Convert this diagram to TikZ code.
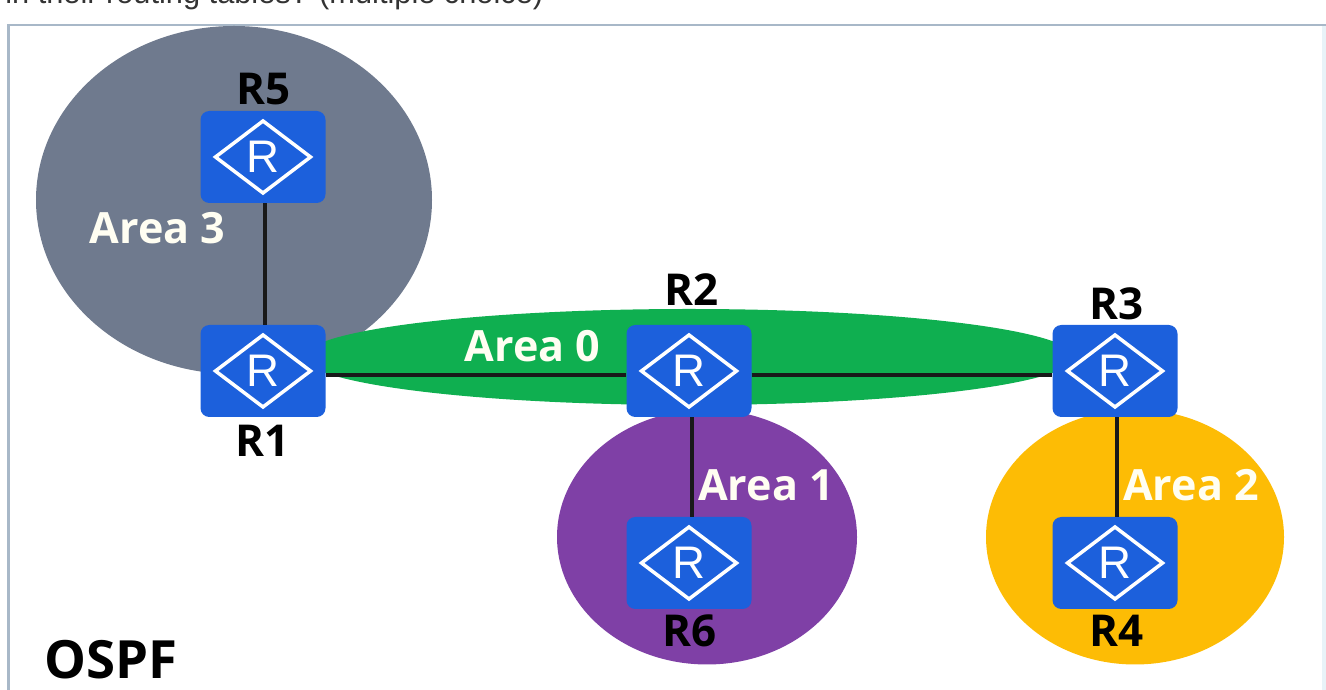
\documentclass[tikz,border=0pt]{standalone}
\usepackage{fontspec}
\setmainfont{Open Sans}
\newfontfamily\headfont{Liberation Sans}
\usepackage{xcolor}
\usetikzlibrary{shapes.geometric}

\definecolor{areagray}{HTML}{6F7A8E}
\definecolor{areagreen}{HTML}{0FAF50}
\definecolor{areapurple}{HTML}{7F40A6}
\definecolor{areayellow}{HTML}{FDBC05}
\definecolor{routerblue}{HTML}{1C60DC}
\definecolor{framegray}{HTML}{A8B8C8}
\definecolor{framelight}{HTML}{E8F3F8}

\begin{document}
\begin{tikzpicture}[
    router/.style={shape=rectangle, rounded corners=5pt, fill=routerblue, minimum width=2.5cm, minimum height=1.84cm,
      inner sep=0pt, text=white, font=\headfont\fontsize{26}{26}\selectfont,
      path picture={\draw[white,sharp corners,line width=2pt] (path picture bounding box.center) ++(-.95cm,0) -- ++(.95cm,.72cm) -- ++(.95cm,-.72cm) -- ++(-.95cm,-.72cm) -- cycle;}},
    routername/.style={font=\bfseries\fontsize{25}{25}\selectfont, text=black, inner sep=0pt},
    arealabel/.style={font=\bfseries\fontsize{24.5}{25}\selectfont, text=white!95!yellow, inner sep=0pt},
    link/.style={line width=1.9pt, black!90}]
    \useasboundingbox (0,0) rectangle (26.52,13.8);

    % text cut off at the top, then the frame
    \node[anchor=base west,inner sep=0pt,font=\headfont\fontsize{17.5}{18}\selectfont,text=black!80] (question) at (0.1,13.72) {in their routing tables? (multiple choice)};
    \fill[framelight] (26.44,0) rectangle (26.52,13.3);
    \draw[framegray,line width=1.2pt] (0.17,0) -- (0.17,13.3) -- (26.52,13.3);

    % areas
    \node[ellipse,fill=areagray,minimum width=7.92cm,minimum height=6.96cm,inner sep=0pt] (area3) at (4.68,9.8) {};
    \node[ellipse,fill=areagreen,minimum width=15.4cm,minimum height=1.92cm,inner sep=0pt] (area0) at (13.78,6.66) {};
    \node[ellipse,fill=areapurple,minimum width=6cm,minimum height=5.1cm,inner sep=0pt] (area1) at (14.14,3.06) {};
    \node[ellipse,fill=areayellow,minimum width=5.96cm,minimum height=5.1cm,inner sep=0pt] (area2) at (22.7,3.06) {};

    % routers
    \node[router] (R5) at (5.26,10.66) {R};
    \node[router] (R1) at (5.26,6.38) {R};
    \node[router] (R2) at (13.78,6.38) {R};
    \node[router] (R3) at (22.3,6.38) {R};
    \node[router] (R6) at (13.78,2.54) {R};
    \node[router] (R4) at (22.3,2.54) {R};

    \draw[link] ([xshift=.04cm]R5.south) -- ([xshift=.04cm]R1.north);
    \draw[link] ([yshift=-.08cm]R1.east) -- ([yshift=-.08cm]R2.west);
    \draw[link] ([yshift=-.08cm]R2.east) -- ([yshift=-.08cm]R3.west);
    \draw[link] ([xshift=.06cm]R2.south) -- ([xshift=.06cm]R6.north);
    \draw[link] ([xshift=.04cm]R3.south) -- ([xshift=.04cm]R4.north);

    \node[routername] (nameR5) at (5.28,12.02) {R5};
    \node[routername] (nameR1) at (5.26,4.98) {R1};
    \node[routername] (nameR2) at (13.84,8) {R2};
    \node[routername] (nameR3) at (22.34,7.72) {R3};
    \node[routername] (nameR6) at (13.8,1.18) {R6};
    \node[routername] (nameR4) at (22.34,1.18) {R4};

    \node[arealabel] (name3) at (3.15,9.24) {Area 3};
    \node[arealabel] (name0) at (10.65,6.88) {Area 0};
    \node[arealabel] (name1) at (15.32,4.1) {Area 1};
    \node[arealabel] (name2) at (23.82,4.1) {Area 2};

    \node[anchor=west,inner sep=0pt,font=\bfseries\fontsize{30}{30}\selectfont] (ospf) at (0.88,0.6) {OSPF};
\end{tikzpicture}
\end{document}
